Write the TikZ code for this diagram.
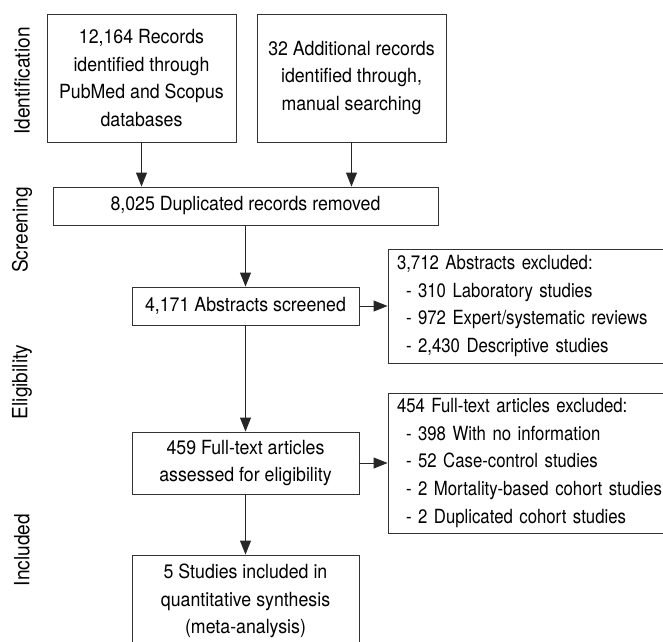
\documentclass[tikz,border=0pt]{standalone}
\usepackage{fontspec}
\setmainfont{TeX Gyre Heros}[FakeStretch=0.91]
\newfontfamily\narrowsans{TeX Gyre Heros}[FakeStretch=0.86]
\usetikzlibrary{arrows.meta}

\begin{document}
\begin{tikzpicture}[x=1pt,y=-1pt,
		stage/.style={draw=black!80, line width=0.9pt, align=center, inner sep=0pt,
			font=\fontsize{19.5}{25.5}\selectfont},
		excl/.style={stage, align=left, inner xsep=9pt, text width=300pt,
			font=\narrowsans\fontsize{19.5}{25.5}\selectfont},
		phase/.style={rotate=90, font=\fontsize{21}{25}\selectfont},
		conn/.style={-{Triangle[length=14pt,width=11pt]}, line width=0.9pt, draw=black!85}]
		\useasboundingbox (0,0) rectangle (663,641);
		% phases
		\node[phase] (pid) at (22,81) {Identification};
		\node[phase] (pscr) at (22,230) {Screening};
		\node[phase] (pelig) at (22,382) {Eligibility};
		\node[phase] (pincl) at (22,550) {Included};
		% boxes
		\node[stage, minimum width=189pt, minimum height=128pt] (idrec) at (141.5,78)
			{12,164 Records\\[2.2pt]identified through\\[2.2pt]PubMed and Scopus\\[2.2pt]databases};
		\node[stage, minimum width=189pt, minimum height=128pt] (addrec) at (351.5,78)
			{32 Additional records\\[2.2pt]identified through,\\[2.2pt]manual searching};
		\node[stage, minimum width=385pt, minimum height=38pt] (dup) at (245.5,206)
			{8,025 Duplicated records removed};
		\node[stage, minimum width=227pt, minimum height=38pt] (scr) at (245.5,306)
			{4,171 Abstracts screened};
		\node[excl, minimum height=114pt] (absexcl) at (547,306)
			{3,712 Abstracts excluded:\\[2.2pt]
			\hspace*{9pt}- 310 Laboratory studies\\[2.2pt]
			\hspace*{9pt}- 972 Expert/systematic reviews\\[2.2pt]
			\hspace*{9pt}- 2,430 Descriptive studies};
		\node[stage, minimum width=227pt, minimum height=62pt] (full) at (245.5,463)
			{459 Full-text articles\\[2.2pt]assessed for eligibility};
		\node[excl, minimum height=140pt] (fullexcl) at (547,463)
			{454 Full-text articles excluded:\\[2.2pt]
			\hspace*{9pt}- 398 With no information\\[2.2pt]
			\hspace*{9pt}- 52 Case-control studies\\[2.2pt]
			\hspace*{9pt}- 2 Mortality-based cohort studies\\[2.2pt]
			\hspace*{9pt}- 2 Duplicated cohort studies};
		\node[stage, minimum width=227pt, minimum height=92pt] (incl) at (245.5,601)
			{5 Studies included in\\[2.2pt]quantitative synthesis\\[2.2pt](meta-analysis)};
		% arrows
		\draw[conn] (idrec.south) -- (idrec.south |- dup.north);
		\draw[conn] (addrec.south) -- (addrec.south |- dup.north);
		\draw[conn] (dup.south) -- (scr.north);
		\draw[conn] (scr.east) -- (absexcl.west);
		\draw[conn] (scr.south) -- (full.north);
		\draw[conn] (full.east) -- (fullexcl.west);
		\draw[conn] (full.south) -- (incl.north);
	\end{tikzpicture}
\end{document}
